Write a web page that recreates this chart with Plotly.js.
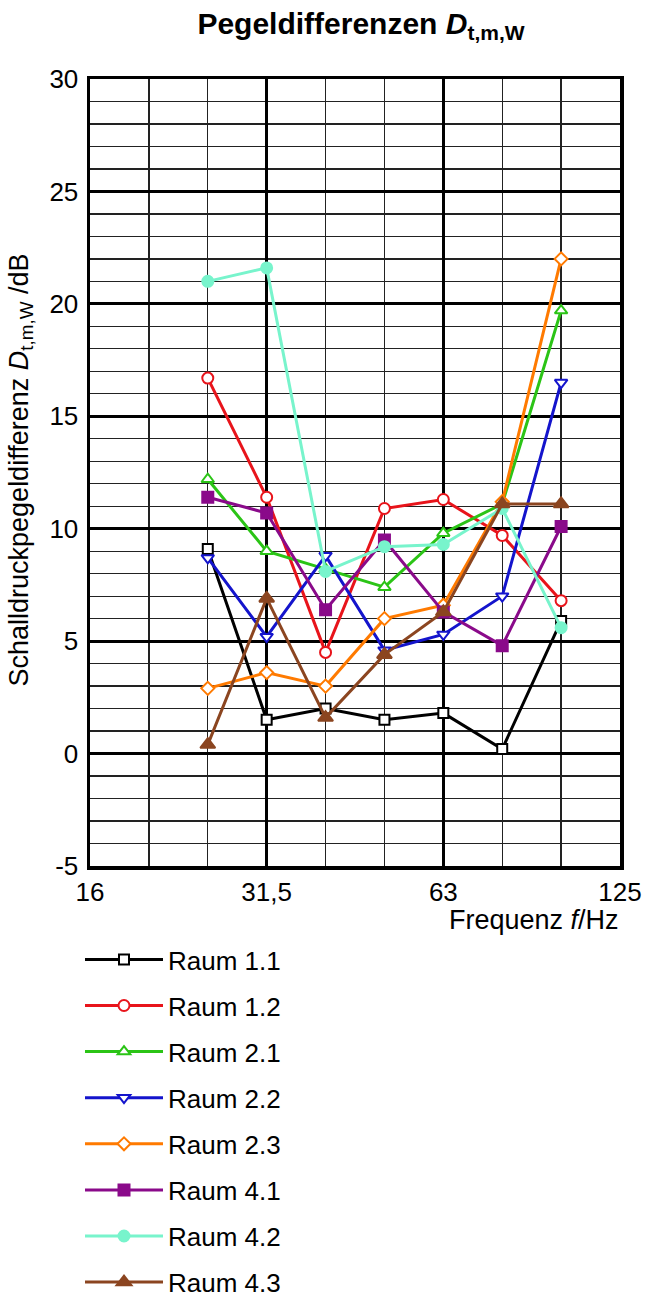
<!DOCTYPE html>
<html>
<head>
<meta charset="utf-8">
<script src="https://cdn.plot.ly/plotly-3.0.1.min.js"></script>
<style>
  html, body { margin: 0; padding: 0; background: #ffffff; }
  #chart { width: 646px; height: 1301px; }
</style>
</head>
<body>
<div id="chart"></div>
<script>
// Third-octave axis positions (equal spacing) and the labels shown
const axisFrequencies = ['16', '20', '25', '31,5', '40', '50', '63', '80', '100', '125'];
const tickLabels = ['16', '31,5', '63', '125'];
const yTickValues = [-5, 0, 5, 10, 15, 20, 25, 30];
const yTickLabels = ['-5', '0', '5', '10', '15', '20', '25', '30'];

// Measured frequencies
const frequencies = ['25', '31,5', '40', '50', '63', '80', '100'];

// Series values (dB)
const raum11 = [9.1, 1.5, 2.0, 1.5, 1.8, 0.2, 5.9];
const raum12 = [16.7, 11.4, 4.5, 10.9, 11.3, 9.7, 6.8];
const raum21 = [12.2, 9.0, 8.2, 7.4, 9.8, 11.1, 19.7];
const raum22 = [8.7, 5.2, 8.8, 4.6, 5.3, 7.0, 16.5];
const raum23 = [2.9, 3.6, 3.0, 6.0, 6.6, 11.2, 22.0];
const raum41 = [11.4, 10.7, 6.4, 9.5, 6.3, 4.8, 10.1];
const raum42 = [21.0, 21.6, 8.1, 9.2, 9.3, 10.9, 5.6];
const raum43 = [0.4, 6.9, 1.6, 4.4, 6.3, 11.1, 11.1];

const seriesNames = ['Raum 1.1', 'Raum 1.2', 'Raum 2.1', 'Raum 2.2', 'Raum 2.3', 'Raum 4.1', 'Raum 4.2', 'Raum 4.3'];
const seriesValues = [raum11, raum12, raum21, raum22, raum23, raum41, raum42, raum43];

const styles = [
  { color: '#000000', symbol: 'square', fill: '#ffffff', size: 10 },
  { color: '#e8141b', symbol: 'circle', fill: '#ffffff', size: 11 },
  { color: '#2bc416', symbol: 'triangle-up', fill: '#ffffff', size: 11 },
  { color: '#1414cc', symbol: 'triangle-down', fill: '#ffffff', size: 11 },
  { color: '#ff7a00', symbol: 'diamond', fill: '#ffffff', size: 10 },
  { color: '#8a0a8a', symbol: 'square', fill: '#8a0a8a', size: 11 },
  { color: '#78f4cc', symbol: 'circle', fill: '#78f4cc', size: 11 },
  { color: '#8b4520', symbol: 'triangle-up', fill: '#8b4520', size: 13 }
];

const xIndex = frequencies.map(f => axisFrequencies.indexOf(f));

const traces = seriesNames.map((name, i) => ({
  type: 'scatter',
  mode: 'lines+markers',
  name: name,
  legendgroup: 'g' + i,
  x: xIndex,
  y: seriesValues[i],
  line: { color: styles[i].color, width: 3 },
  marker: {
    symbol: styles[i].symbol,
    size: styles[i].size,
    color: styles[i].fill,
    line: { color: styles[i].color, width: 2 }
  },
  cliponaxis: false
}));

const fontFamily = 'Liberation Sans, Arial, sans-serif';

const layout = {
  width: 646,
  height: 1301,
  margin: { l: 90, r: 26, t: 79, b: 435, autoexpand: false },
  paper_bgcolor: '#ffffff',
  plot_bgcolor: '#ffffff',
  font: { family: fontFamily, color: '#000000', size: 26 },
  title: {
    text: '<b>Pegeldifferenzen <i>D</i><sub>t,m,W</sub></b>',
    font: { family: fontFamily, size: 30, color: '#000000' },
    x: 0.5 + 6 / 530, xref: 'paper', xanchor: 'center',
    y: 1 - 23 / 1301, yref: 'container', yanchor: 'middle'
  },
  xaxis: {
    type: 'linear',
    range: [0, axisFrequencies.length - 1],
    tickmode: 'array',
    tickvals: tickLabels.map(t => axisFrequencies.indexOf(t)),
    ticktext: tickLabels,
    ticks: '',
    tickfont: { size: 26, family: fontFamily },
    showgrid: true,
    gridcolor: '#000000',
    gridwidth: 3,
    minor: {
      tickmode: 'array',
      tickvals: axisFrequencies.map((f, i) => i),
      showgrid: true,
      gridcolor: '#222222',
      gridwidth: 1.3,
      ticks: ''
    },
    zeroline: false,
    showline: true,
    mirror: true,
    linecolor: '#000000',
    linewidth: 3.5,
    fixedrange: true
  },
  yaxis: {
    range: [-5, 30],
    tickmode: 'array',
    tickvals: yTickValues,
    ticktext: yTickLabels,
    ticks: '',
    ticklabelstandoff: 3,
    tickfont: { size: 26, family: fontFamily },
    showgrid: true,
    gridcolor: '#000000',
    gridwidth: 3,
    minor: {
      tickmode: 'linear',
      tick0: 0,
      dtick: 1,
      showgrid: true,
      gridcolor: '#222222',
      gridwidth: 1.3,
      ticks: ''
    },
    zeroline: false,
    showline: true,
    mirror: true,
    linecolor: '#000000',
    linewidth: 3.5,
    fixedrange: true
  },
  annotations: [
    {
      text: 'Frequenz <i>f</i>/Hz',
      xref: 'paper', yref: 'paper',
      x: 1, y: -54 / 787,
      xanchor: 'right', yanchor: 'middle',
      xshift: 1,
      showarrow: false,
      font: { size: 27, family: fontFamily, color: '#000000' }
    },
    {
      text: 'Schalldruckpegeldifferenz <i>D</i><sub>t,m,W</sub> /dB',
      xref: 'paper', yref: 'paper',
      x: -70 / 530, y: 0.5 + 2 / 787,
      xanchor: 'center', yanchor: 'middle',
      textangle: -90,
      showarrow: false,
      font: { size: 27, family: fontFamily, color: '#000000' }
    }
  ],
  showlegend: true,
  legend: {
    orientation: 'v',
    xref: 'container', yref: 'container',
    x: 80 / 646, xanchor: 'left',
    y: 1 - 936 / 1301, yanchor: 'top',
    font: { size: 26, family: fontFamily, color: '#000000' },
    itemwidth: 78,
    tracegroupgap: 9.3,
    bgcolor: 'rgba(0,0,0,0)'
  }
};

Plotly.newPlot('chart', traces, layout, { displayModeBar: false, staticPlot: true });
</script>
</body>
</html>
